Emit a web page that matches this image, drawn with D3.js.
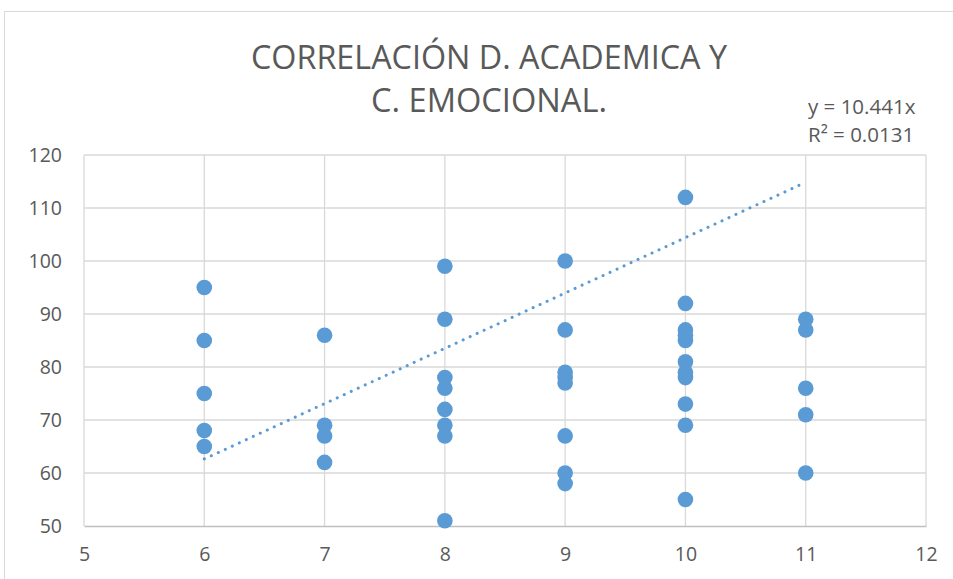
<!DOCTYPE html>
<html>
<head>
<meta charset="utf-8">
<script src="https://cdn.jsdelivr.net/npm/d3@7"></script>
<style>
  body { margin: 0; background: #fff; }
  text { font-family: "Open Sans", sans-serif; fill: #595959; }
</style>
</head>
<body>
<div id="container"></div>
<script>
/* DATA */
const xValues = [6, 6, 6, 6, 6,
  7, 7, 7, 7,
  8, 8, 8, 8, 8, 8, 8, 8,
  9, 9, 9, 9, 9, 9, 9, 9,
  10, 10, 10, 10, 10, 10, 10, 10, 10, 10, 10,
  11, 11, 11, 11, 11]
const yValues = [95, 85, 75, 68, 65,
  86, 69, 67, 62,
  99, 89, 78, 76, 72, 69, 67, 51,
  100, 87, 79, 78, 77, 67, 60, 58,
  112, 92, 87, 86, 85, 81, 79, 78, 73, 69, 55,
  89, 87, 76, 71, 60]
const xTicks = [5, 6, 7, 8, 9, 10, 11, 12]
const yTicks = [50, 60, 70, 80, 90, 100, 110, 120]
const slope = 10.441
const trendRange = [6, 11]
const titleLines = ["CORRELACIÓN D. ACADEMICA Y", "C. EMOCIONAL."]
const equationLines = ["y = 10.441x", "R² = 0.0131"]

/* CONSTANTS */
const width = 953,
  height = 579,
  margin = { top: 155, bottom: 53, left: 84, right: 27 };

const svg = d3.select("#container")
  .append("svg")
  .attr("width", width)
  .attr("height", height)

// chart border
svg.append("path")
  .attr("d", `M4.5,${height} V11.5 H${width}`)
  .attr("fill", "none")
  .attr("stroke", "#d9d9d9")

// SCALES
const xScale = d3.scaleLinear()
  .domain([5, 12])
  .range([margin.left, width - margin.right])

const yScale = d3.scaleLinear()
  .domain([50, 120])
  .range([height - margin.bottom, margin.top])

// GRIDLINES
svg.append("g")
  .selectAll("line")
  .data(yTicks.slice(1))
  .join("line")
  .attr("x1", xScale(5))
  .attr("x2", xScale(12))
  .attr("y1", d => yScale(d))
  .attr("y2", d => yScale(d))
  .attr("stroke", "#d9d9d9")
  .attr("stroke-width", 1.3)

svg.append("g")
  .selectAll("line")
  .data(xTicks)
  .join("line")
  .attr("x1", d => xScale(d))
  .attr("x2", d => xScale(d))
  .attr("y1", yScale(120))
  .attr("y2", yScale(50))
  .attr("stroke", "#d9d9d9")
  .attr("stroke-width", 1.3)

// AXES
const xAxis = svg.append("g")
  .attr("transform", `translate(0, ${yScale(50)})`)
  .call(d3.axisBottom(xScale).tickValues(xTicks).tickFormat(d3.format("d")).tickSize(0).tickPadding(21))
xAxis.select(".domain").attr("stroke", "#bfbfbf").attr("stroke-width", 1.5)
xAxis.selectAll("text").attr("font-size", 19.5).attr("fill", "#595959")
  .style("font-family", '"Open Sans", sans-serif')

const yAxis = svg.append("g")
  .attr("transform", `translate(${margin.left}, 0)`)
  .call(d3.axisLeft(yScale).tickValues(yTicks).tickSize(0).tickPadding(22))
yAxis.select(".domain").remove()
yAxis.selectAll("text").attr("font-size", 19.5).attr("fill", "#595959")
  .style("font-family", '"Open Sans", sans-serif')

// TRENDLINE
svg.append("line")
  .attr("x1", xScale(trendRange[0]))
  .attr("y1", yScale(slope * trendRange[0]))
  .attr("x2", xScale(trendRange[1]))
  .attr("y2", yScale(slope * trendRange[1]))
  .attr("stroke", "#5b9bd5")
  .attr("stroke-width", 3)
  .attr("stroke-linecap", "round")
  .attr("stroke-dasharray", "0.1 7.6")

// POINTS
svg.append("g")
  .selectAll("circle")
  .data(xValues.map((x, i) => ({ x, y: yValues[i] })))
  .join("circle")
  .attr("cx", d => xScale(d.x))
  .attr("cy", d => yScale(d.y))
  .attr("r", 7.8)
  .attr("fill", "#5b9bd5")

// TITLE
const titleWidths = [476, 236]
svg.append("g")
  .selectAll("text")
  .data(titleLines)
  .join("text")
  .attr("x", 489)
  .attr("y", (d, i) => 69 + i * 43)
  .attr("text-anchor", "middle")
  .attr("font-size", 32.5)
  .attr("textLength", (d, i) => titleWidths[i])
  .attr("lengthAdjust", "spacingAndGlyphs")
  .text(d => d)

// EQUATION
svg.append("g")
  .selectAll("text")
  .data(equationLines)
  .join("text")
  .attr("x", 808)
  .attr("y", (d, i) => 114 + i * 28)
  .attr("font-size", 20.5)
  .text(d => d)
</script>
</body>
</html>
